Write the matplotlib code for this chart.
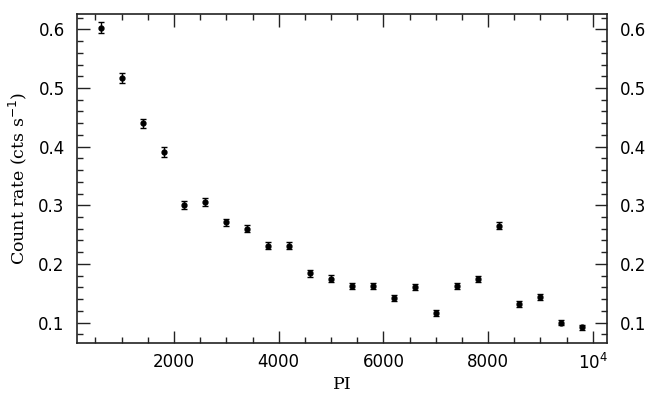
import matplotlib
matplotlib.use("Agg")
import matplotlib.pyplot as plt
from matplotlib.ticker import MultipleLocator, FixedLocator, FixedFormatter

# PI channel bins and count rates
pi = [600, 1000, 1400, 1800, 2200, 2600, 3000, 3400, 3800, 4200, 4600, 5000,
      5400, 5800, 6200, 6600, 7000, 7400, 7800, 8200, 8600, 9000, 9400, 9800]
rate = [0.603, 0.517, 0.440, 0.391, 0.301, 0.306, 0.271, 0.260, 0.231, 0.231,
        0.184, 0.175, 0.163, 0.163, 0.142, 0.161, 0.116, 0.162, 0.174, 0.265,
        0.132, 0.143, 0.100, 0.092]
rate_err = [0.010, 0.009, 0.008, 0.008, 0.007, 0.007, 0.006, 0.006, 0.006, 0.006,
            0.006, 0.006, 0.005, 0.005, 0.005, 0.005, 0.005, 0.005, 0.005, 0.006,
            0.005, 0.005, 0.005, 0.004]

xticks = [2000, 4000, 6000, 8000, 10000]
xtick_labels = ["2000", "4000", "6000", "8000", r"10$^4$"]

LABEL_FONT = dict(family="DejaVu Serif", fontsize=12.5)

fig = plt.figure(figsize=(6.54, 3.93), dpi=100)
ax = fig.add_axes([0.118, 0.127, 0.810, 0.837])

ax.errorbar(pi, rate, yerr=rate_err, fmt="o", color="black", ms=3.5,
            capsize=2.5, elinewidth=1.0, capthick=1.0)

ax.set_xlim(150, 10270)
ax.set_ylim(0.065, 0.626)

ax.xaxis.set_major_locator(FixedLocator(xticks))
ax.xaxis.set_major_formatter(FixedFormatter(xtick_labels))
ax.xaxis.set_minor_locator(MultipleLocator(500))
ax.yaxis.set_major_locator(MultipleLocator(0.1))
ax.yaxis.set_minor_locator(MultipleLocator(0.02))

ax.tick_params(which="both", direction="in", top=True, right=True,
               labelright=True, labelsize=12, width=1.0, color="#222222")
ax.tick_params(which="major", length=9)
ax.tick_params(which="minor", length=4.5)
ax.tick_params(axis="y", which="major", pad=9)
ax.tick_params(axis="x", which="major", pad=7)
for s in ax.spines.values():
    s.set_linewidth(1.2)
    s.set_color("#222222")

ax.set_xlabel("PI", labelpad=2, **LABEL_FONT)
ax.set_ylabel(r"Count rate (cts s$^{-1}$)", labelpad=7, **LABEL_FONT)

fig.savefig("out.png", dpi=100)
